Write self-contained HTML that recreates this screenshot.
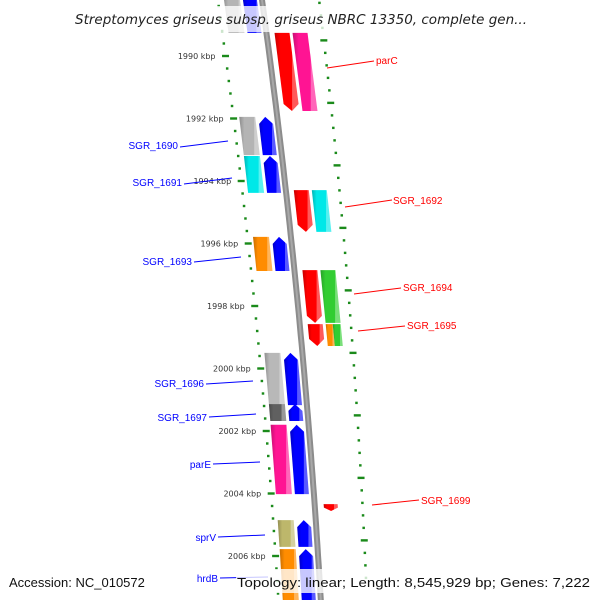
<!DOCTYPE html>
<html><head><meta charset="utf-8"><style>
html,body{margin:0;padding:0;background:#fff;}
svg{display:block;font-family:"Liberation Sans",sans-serif;}
</style></head><body>
<svg id="map" width="600" height="600" viewBox="0 0 600 600" xmlns="http://www.w3.org/2000/svg">
<defs id="defs"></defs>
<g id="dots"></g>
<g id="axis"></g>
<g id="feat"></g>
<g id="labels"></g>
<rect x="0" y="6" width="600" height="26" fill="#fff" fill-opacity="0.78"/>
<text x="75" y="24" textLength="452" lengthAdjust="spacingAndGlyphs" font-family="DejaVu Sans, sans-serif" font-size="13" font-style="italic" fill="#222">Streptomyces griseus subsp. griseus NBRC 13350, complete gen...</text>
<rect x="236" y="569" width="364" height="24" fill="#fff" fill-opacity="0.78"/>
<text x="9" y="587" font-size="13" fill="#111">Accession: NC_010572</text>
<text x="237" y="587" textLength="353" lengthAdjust="spacingAndGlyphs" font-size="13" fill="#111">Topology: linear; Length: 8,545,929 bp; Genes: 7,222</text>
</svg>
<script>
const NS="http://www.w3.org/2000/svg";
// data
const leftNames=["top-gene","SGR_1690","SGR_1691","SGR_1693","SGR_1696","SGR_1697","parE","sprV","hrdB"];
const leftStart=[1987.9,1991.95,1993.2,1995.79,1999.5,2001.14,2001.8,2004.85,2005.78];
const leftEnd=[1989.26,1993.17,1994.38,1996.88,2001.17,2001.68,2004.02,2005.71,2007.73];
const leftCog=["#b4b4b4","#b4b4b4","#00e8e8","#ff8c00","#b8b8b8","#606060","#ff1493","#bdb76b","#ff8c00"];
const rightNames=["parC","SGR_1692","SGR_1694","SGR_1695","SGR_1699"];
const rightStart=[1989.26,1994.29,1996.85,1998.58,2004.34];
const rightEnd=[1991.76,1995.63,1998.54,1999.28,2004.56];
const rightCog=["#ff1493","#00e8e8","#32cd32","#ff8c00|#32cd32",""];
const kbpTicks=[1990,1992,1994,1996,1998,2000,2002,2004,2006];

const Y=k=>56+(k-1990)*31.25;
const cx=y=>262+0.138*y-6.67e-5*y*y;
const leftDot=y=>cx(y)-44+0.003*(y-56);
const rightDot=y=>cx(y)+56-9*(y-60)/490;
const defs=document.getElementById('defs');
function mk(tag,attrs,parent){const e=document.createElementNS(NS,tag);for(const k in attrs)e.setAttribute(k,attrs[k]);parent.appendChild(e);return e;}
let gid=0;
function shade(hex,f){const n=parseInt(hex.slice(1),16);let r=n>>16,g=(n>>8)&255,b=n&255;
 const m=v=>Math.max(0,Math.min(255,Math.round(f<1?v*f:v+(255-v)*(f-1))));return `rgb(${m(r)},${m(g)},${m(b)})`;}
function grad(col){const id='g'+(gid++);const lg=mk('linearGradient',{id:id,x1:0,y1:0,x2:1,y2:0},defs);
 mk('stop',{offset:0,'stop-color':shade(col,0.78)},lg);mk('stop',{offset:0.25,'stop-color':col},lg);
 mk('stop',{offset:0.72,'stop-color':col},lg);mk('stop',{offset:0.74,'stop-color':shade(col,1.35)},lg);
 mk('stop',{offset:1,'stop-color':shade(col,1.35)},lg);return `url(#${id})`;}
function poly(pts,fill,parent){return mk('polygon',{points:pts.map(p=>p[0].toFixed(1)+','+p[1].toFixed(1)).join(' '),fill:fill},parent);}
function box(y1,y2,o1,o2,fill,parent){return poly([[cx(y1)+o1,y1],[cx(y1)+o2,y1],[cx(y2)+o2,y2],[cx(y2)+o1,y2]],fill,parent);}

// dotted scale
const dots=document.getElementById('dots');
for(let k=1987.6;k<=2007.7;k+=0.4){const y=Y(k);const major=Math.abs(((k-1990)/2)-Math.round((k-1990)/2))<0.02;
 const x=leftDot(y);const w=major?7:2.5;
 const d=mk('rect',{x:x-w/2,y:y-1.2,width:w,height:2.4,fill:'#1a8a1a'},dots);
 
 }
for(let k=1988.3;k<=2006.8;k+=0.4){const y=Y(k);const major=Math.abs(((k-1989.5)/2)-Math.round((k-1989.5)/2))<0.02;
 const x=rightDot(y);const w=major?7:2.5;
 const d=mk('rect',{x:x-w/2,y:y-1.2,width:w,height:2.4,fill:'#1a8a1a'},dots);
 
 }
kbpTicks.forEach(k=>{const y=Y(k);const t=mk('text',{x:leftDot(y)-10,y:y+3,'text-anchor':'end','font-size':8,'font-family':'DejaVu Sans, sans-serif',fill:'#333'},dots);
 t.textContent=k+' kbp';
 
 });

// backbone
const axis=document.getElementById('axis');
let pts=[];for(let y=-5;y<=605;y+=10)pts.push(cx(y).toFixed(1)+','+y);
const bl=mk('polyline',{points:pts.join(' '),fill:'none',stroke:'#8c8c8c','stroke-width':6},axis);


const bl2=mk('polyline',{points:pts.join(' '),fill:'none',stroke:'#a8a8a8','stroke-width':2},axis);



// features
const feat=document.getElementById('feat');
leftNames.forEach((n,i)=>{const y1=Y(leftStart[i]),y2=Y(leftEnd[i]);
 const b=box(y1,y2,-38,-22,grad(leftCog[i]),feat);
 
 
 const h=Math.min(7,(y2-y1)*0.4);const o1=-19,o2=-5,om=-12;
 const a=poly([[cx(y1)+om,y1],[cx(y1+h)+o2,y1+h],[cx(y2)+o2,y2],[cx(y2)+o1,y2],[cx(y1+h)+o1,y1+h]],grad('#0000ff'),feat);
 
 });
rightNames.forEach((n,i)=>{const y1=Y(rightStart[i]),y2=Y(rightEnd[i]);
 if(rightCog[i]){const cs=rightCog[i].split('|');
  if(cs.length===1){const b=box(y1,y2,26,41,grad(cs[0]),feat);
   
   }
  else{const b=box(y1,y2,26,33,grad(cs[0]),feat);
   
   
   const b2=box(y1,y2,33,41,grad(cs[1]),feat);
   
   }}
 const h=Math.min(7,(y2-y1)*0.5);let o1=8,o2=23,om=15.5;
 if(y2-y1<10){o1=9;o2=23;om=16;}
 const a=poly([[cx(y1)+o1,y1],[cx(y1)+o2,y1],[cx(y2-h)+o2,y2-h],[cx(y2)+om,y2],[cx(y2-h)+o1,y2-h]],grad('#ff0000'),feat);
 
 });

// labels
const labels=document.getElementById('labels');
const leftLab=[["SGR_1690",178,149,180,147,228,141],["SGR_1691",182,186,184,184,232,178],["SGR_1693",192,265,194,262,241,257],
 ["SGR_1696",204,387,206,384,253,381],["SGR_1697",207,421,209,417,256,414],["parE",211,468,213,464,260,462],
 ["sprV",216,541,218,537,265,535],["hrdB",218,582,220,578,268,577]];
const rightLab=[["parC",376,64,327,68,374,61],["SGR_1692",393,204,345,207,392,200],["SGR_1694",403,291,354,294,401,288],
 ["SGR_1695",407,329,358,331,405,326],["SGR_1699",421,504,372,505,419,500]];
leftLab.forEach(l=>{const ln=mk('line',{x1:l[3],y1:l[4],x2:l[5],y2:l[6],stroke:'#0000ff','stroke-width':1},labels);
 
 
 const t=mk('text',{x:l[1],y:l[2],'text-anchor':'end','font-size':10,fill:'#0000ff'},labels);t.textContent=l[0];
 
 });
rightLab.forEach(l=>{const ln=mk('line',{x1:l[3],y1:l[4],x2:l[5],y2:l[6],stroke:'#ff0000','stroke-width':1},labels);
 
 
 const t=mk('text',{x:l[1],y:l[2],'font-size':10,fill:'#ff0000'},labels);t.textContent=l[0];
 
 });
</script>
</body></html>
